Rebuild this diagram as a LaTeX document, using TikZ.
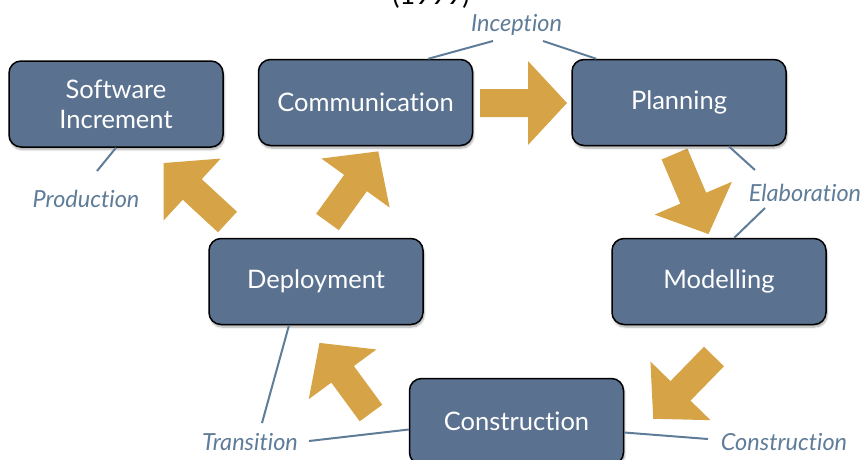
\documentclass[tikz,border=0pt]{standalone}
\usepackage{fontspec}
\setmainfont{Lato}[Ligatures=NoCommon]
\usetikzlibrary{shadows.blur,calc}
\definecolor{boxblue}{HTML}{5A7190}
\definecolor{arrowtan}{HTML}{D6A447}
\definecolor{labelblue}{HTML}{5F7C98}
\tikzset{
  stage/.style={draw=black, line width=1.5pt, fill=boxblue, rounded corners=12pt,
    minimum width=214pt, minimum height=86pt, text=white, align=center,
    font=\fontsize{25.5}{30}\selectfont,
    blur shadow={shadow xshift=1pt, shadow yshift=-2.5pt, shadow blur steps=6, shadow opacity=35}},
  phase/.style={text=labelblue, font=\fontsize{23.5}{26}\selectfont\itshape, inner sep=0pt},
  tie/.style={draw=labelblue, line width=2pt},
  blk/.style={fill=arrowtan}
}
\newcommand\blockarr[2]{\fill[blk, shift={#1}, rotate=#2] (0,-14) -- (48,-14) -- (48,-42) -- (87,0) -- (48,42) -- (48,14) -- (0,14) -- cycle;}
\begin{document}
\begin{tikzpicture}[x=1pt,y=-1pt]
\useasboundingbox (0,0) rectangle (865,459);
\clip (0,0) rectangle (865,459);
% partial title
\node[anchor=base, font=\fontsize{27}{30}\selectfont, text=black] (year) at (431,4) {(1999)};
% block arrows
\blockarr{(480,103)}{0}
\blockarr{(674.5,154)}{-67}
\blockarr{(714,356.5)}{-134.3}
\blockarr{(371,413)}{126.3}
\blockarr{(327.5,222)}{54.3}
\blockarr{(227.5,222)}{137.3}
% stages
\node[stage] (si) at (116,104) {Software\\Increment};
\node[stage] (comm) at (365.5,102.5) {Communication};
\node[stage] (plan) at (679,102.5) {Planning};
\node[stage] (depl) at (316,281.5) {Deployment};
\node[stage] (model) at (719,281.5) {Modelling};
\node[stage] (constr) at (516.5,421.5) {Construction};
% phase labels
\node[phase] (inc) at (516.5,25) {Inception};
\node[phase] (elab) at (805,193) {Elaboration};
\node[phase] (prod) at (86,199) {Production};
\node[phase] (trans) at (250,442) {Transition};
\node[phase] (cons) at (784,442) {Construction};
% free ends of ties
\coordinate (incL) at (493,41);
\coordinate (incR) at (543,41);
\coordinate (elabT) at (755,170);
\coordinate (elabB) at (765,208);
\coordinate (prodT) at (97,171);
\coordinate (transT) at (262,423);
\coordinate (transR) at (309,441);
\coordinate (consL) at (708,439);
% ties
\draw[tie] (incL) -- ([xshift=-45pt]comm.north east);
\draw[tie] (incR) -- ([xshift=25pt]plan.north west);
\draw[tie] ([xshift=-58pt]plan.south east) -- (elabT);
\draw[tie] (elabB) -- ([xshift=123pt]model.north west);
\draw[tie] (si.south) -- (prodT);
\draw[tie] (transT) -- ([xshift=-27pt]depl.south);
\draw[tie] (transR) -- ([yshift=-8pt]constr.west);
\draw[tie] ([yshift=-11pt]constr.east) -- (consL);
\end{tikzpicture}
\end{document}
